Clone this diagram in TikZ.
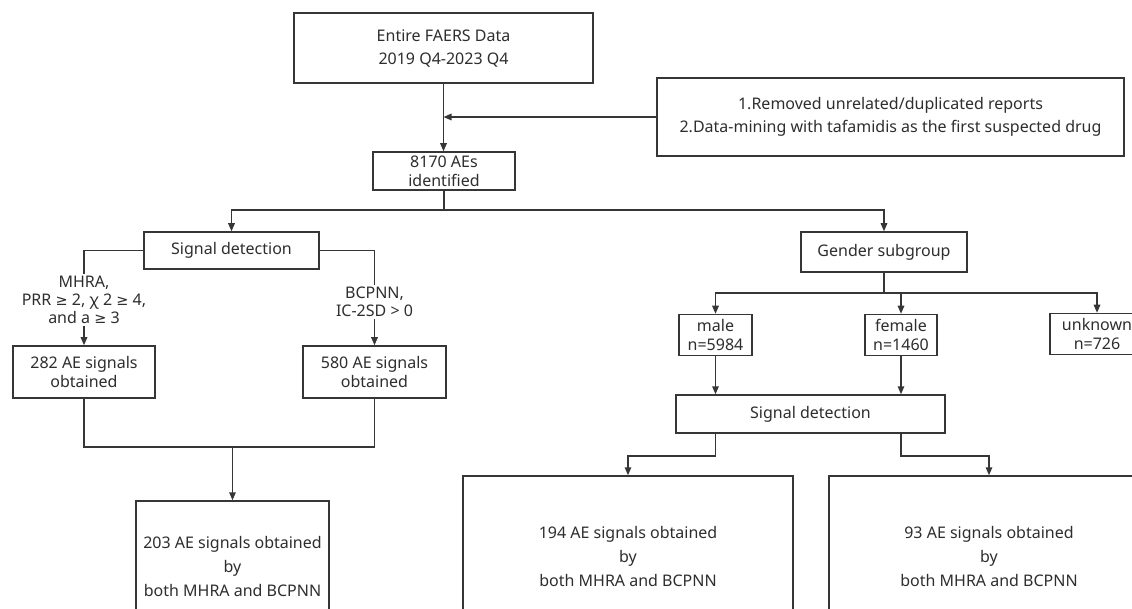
\documentclass[tikz,border=0pt]{standalone}
\usepackage{fontspec}
\setmainfont{Noto Sans}
\newfontfamily\symf{DejaVu Sans}
\usetikzlibrary{arrows.meta}
\definecolor{lc}{HTML}{363636}
\definecolor{tc}{HTML}{2E2E2E}
\newcommand\myfs{\fontsize{16}{19}\selectfont}
\newcommand\myfsb{\fontsize{16}{23}\selectfont}
\newcommand\myfsc{\fontsize{16}{24}\selectfont}
\newcommand\myfsl{\fontsize{16}{18}\selectfont}
\newcommand\mygeq{{\symf\fontsize{14.5}{18}\selectfont ≥}}
\begin{document}
\begin{tikzpicture}[x=1pt,y=-1pt,
  box/.style={draw=lc, line width=1.5pt, inner sep=0pt, align=center, text=tc, font=\myfs},
  lbl/.style={fill=white, inner sep=2pt, align=center, text=tc, font=\myfsl},
  conn/.style={draw=lc, line width=1.5pt},
  arr/.style={conn, -{Triangle[length=8pt,width=6.5pt]}}
]
\useasboundingbox (0,0) rectangle (1132,609);
\clip (0,0) rectangle (1132,609);
\fill[white] (0,0) rectangle (1132,609);

\node[box, font=\myfsb, minimum width=299pt, minimum height=70pt] (top) at (443.5,48) {Entire FAERS Data\\2019 Q4-2023 Q4};
\node[box, font=\myfsb, minimum width=467pt, minimum height=78pt] (filter) at (890.5,117) {1.Removed unrelated/duplicated reports\\2.Data-mining with tafamidis as the first suspected drug};
\node[box, minimum width=142pt, minimum height=38pt] (ae) at (444,171) {8170 AEs\\identified};
\node[box, minimum width=175pt, minimum height=37pt] (sd1) at (231.5,250.5) {Signal detection};
\node[box, minimum width=166pt, minimum height=40pt] (gender) at (884,252) {Gender subgroup};
\node[box, minimum width=142pt, minimum height=52pt] (a282) at (84,372) {282 AE signals\\obtained};
\node[box, minimum width=143pt, minimum height=52pt] (a580) at (374.5,372) {580 AE signals\\obtained};
\node[box, minimum width=73pt, minimum height=41pt] (male) at (715.5,335) {male\\n=5984};
\node[box, minimum width=72pt, minimum height=41pt] (female) at (901,335) {female\\n=1460};
\node[box, minimum width=94pt, minimum height=41pt] (unknown) at (1097,334) {unknown\\n=726};
\node[box, minimum width=269pt, minimum height=38pt] (sd2) at (810.5,414) {Signal detection};
\node[box, font=\myfsc, minimum width=193pt, minimum height=130pt] (b203) at (232.5,566) {203 AE signals obtained\\by\\both MHRA and BCPNN};
\node[box, font=\myfsc, minimum width=330pt, minimum height=160pt] (b194) at (628,556) {194 AE signals obtained\\by\\both MHRA and BCPNN};
\node[box, font=\myfsc, minimum width=320pt, minimum height=160pt] (b93) at (989,556) {93 AE signals obtained\\by\\both MHRA and BCPNN};

% top part
\coordinate (j1) at (top.south |- filter.west);
\draw[arr] (top.south) -- (top.south |- ae.north);
\draw[arr] (filter.west) -- (j1);
\coordinate (j2) at (444,210);
\draw[conn] (ae.south) -- (j2);
\draw[arr] (j2) -| (sd1.north);
\draw[arr] (j2) -| (gender.north);

% left branch
\draw[arr] (sd1.west) -| (a282.north);
\draw[arr] (sd1.east) -| (a580.north);
\node[lbl] (l1) at (84,300) {MHRA,\\PRR \mygeq{} 2, χ 2 \mygeq{} 4,\\and a \mygeq{} 3};
\node[lbl] (l2) at (374.5,302) {BCPNN,\\IC-2SD > 0};
\coordinate (j3) at (232.5,447);
\draw[conn] (a282.south) |- (j3);
\draw[conn] (a580.south) |- (j3);
\draw[arr] (j3) -- (b203.north);

% right branch
\coordinate (j4) at (884,293);
\draw[conn] (gender.south) -- (j4);
\draw[arr] (j4) -| (male.north);
\draw[arr] (j4) -| (female.north);
\draw[arr] (j4) -| (unknown.north);
\draw[arr] (male.south) -- (male.south |- sd2.north);
\draw[arr] (female.south) -- (female.south |- sd2.north);
\draw[arr] (sd2.south -| male.south) -- ++(0,22) -| (b194.north);
\draw[arr] (sd2.south -| female.south) -- ++(0,22) -| (b93.north);
\end{tikzpicture}
\end{document}
